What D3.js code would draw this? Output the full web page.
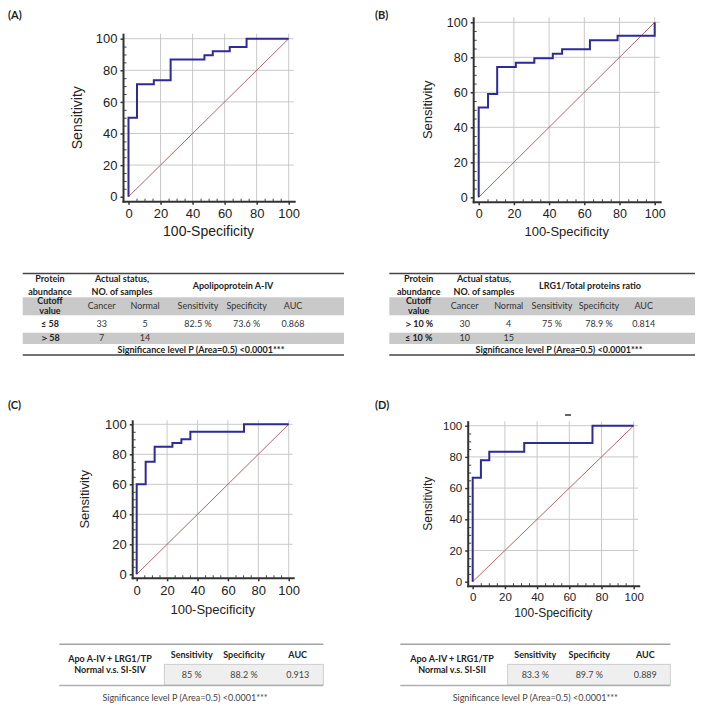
<!DOCTYPE html>
<html>
<head>
<meta charset="utf-8">
<script src="https://cdn.jsdelivr.net/npm/d3@7"></script>
<style>
  body { margin: 0; background: #fff; }
  svg { display: block; }
</style>
</head>
<body>
<div id="container"></div>
<script>
// ROC step vertices: x = 100-Specificity, y = Sensitivity (curve rises at each x)
const rocA_x = [0, 5.3, 15.8, 26.3, 47.4, 52.6, 63.2, 73.7, 100];
const rocA_y = [50, 71.1, 73.7, 86.8, 89.5, 92.1, 94.7, 100, 100];
const rocB_x = [0, 5.3, 10.5, 21.1, 31.6, 42.1, 47.4, 63.2, 78.9, 100];
const rocB_y = [51.3, 59, 74.4, 76.9, 79.5, 82.1, 84.6, 89.7, 92.3, 100];
const rocC_x = [0, 5.9, 11.8, 23.5, 29.4, 35.3, 70.6, 100];
const rocC_y = [60, 75, 85, 87.5, 90, 95, 100, 100];
const rocD_x = [0, 5.1, 10.3, 32, 74.4, 100];
const rocD_y = [66.7, 77.8, 83.3, 88.9, 100, 100];
const axisTicks = [0, 20, 40, 60, 80, 100];
const minorTicks = [5, 10, 15, 25, 30, 35, 45, 50, 55, 65, 70, 75, 85, 90, 95];

const panelLabels = ["(A)", "(B)", "(C)", "(D)"];
const abundanceHead = ["Protein", "abundance"];
const statusHead = ["Actual status,", "NO. of samples"];
const cutoffHead = ["Cutoff", "value"];
const columnHeads = ["Cancer", "Normal", "Sensitivity", "Specificity", "AUC"];
const tableA_title = "Apolipoprotein A-IV";
const tableA_rows = [
  ["≤ 58", "33", "5", "82.5 %", "73.6 %", "0.868"],
  ["＞58", "7", "14", "", "", ""]
];
const tableB_title = "LRG1/Total proteins ratio";
const tableB_rows = [
  ["＞10 %", "30", "4", "75 %", "78.9 %", "0.814"],
  ["≤ 10 %", "10", "15", "", "", ""]
];
const sigText = "Significance level P (Area=0.5) <0.0001***";
const comboHeads = ["Sensitivity", "Specificity", "AUC"];
const tableC_label = ["Apo A-IV + LRG1/TP", "Normal v.s. SI-SIV"];
const tableC_vals = ["85 %", "88.2 %", "0.913"];
const tableD_label = ["Apo A-IV + LRG1/TP", "Normal v.s. SI-SII"];
const tableD_vals = ["83.3 %", "89.7 %", "0.889"];

const W = 704, H = 712;
const plotFont = "'Liberation Sans', Arial, sans-serif";
const tabFont = "Lato, 'Open Sans', sans-serif";

const svg = d3.select("#container").append("svg")
  .attr("width", W).attr("height", H)
  .attr("viewBox", [0, 0, W, H]);
svg.append("rect").attr("width", W).attr("height", H).attr("fill", "#fff");

// panel letters
const letterPos = [[8, 19], [375, 19], [8, 409], [375, 409]];
svg.selectAll(".plabel").data(panelLabels).join("text")
  .attr("class", "plabel")
  .attr("x", (d, i) => letterPos[i][0]).attr("y", (d, i) => letterPos[i][1])
  .attr("font-family", tabFont).attr("font-weight", "bold").attr("font-size", 11)
  .attr("fill", "#222").text(d => d);

const drawRoc = (cfg, xs, ys) => {
  const x = d3.scaleLinear().domain([0, 100]).range([cfg.x0, cfg.x1]);
  const y = d3.scaleLinear().domain([0, 100]).range([cfg.yBot, cfg.yTop]);
  const left = cfg.x0 - cfg.pad, bottom = cfg.yBot + cfg.pad;
  const right = cfg.x1 + cfg.pad, top = cfg.yTop - cfg.pad;
  const g = svg.append("g");

  g.selectAll(".vgrid").data(axisTicks.slice(1)).join("line")
    .attr("x1", d => x(d)).attr("x2", d => x(d))
    .attr("y1", top).attr("y2", bottom)
    .attr("stroke", "#c9c9c9").attr("stroke-width", 1);
  g.selectAll(".hgrid").data(axisTicks.slice(1)).join("line")
    .attr("y1", d => y(d)).attr("y2", d => y(d))
    .attr("x1", left).attr("x2", right)
    .attr("stroke", "#c9c9c9").attr("stroke-width", 1);

  // chance line
  g.append("line")
    .attr("x1", x(0)).attr("y1", y(0)).attr("x2", x(100)).attr("y2", y(100))
    .attr("stroke", "#b06666").attr("stroke-width", 1);

  const pts = [[0, 0]].concat(xs.map((v, i) => [v, ys[i]]));
  g.append("path")
    .attr("d", d3.line().x(d => x(d[0])).y(d => y(d[1])).curve(d3.curveStepAfter)(pts))
    .attr("fill", "none").attr("stroke", "#2e2a96").attr("stroke-width", 2);

  // axes
  const yAxis = d3.axisLeft(y).tickValues(axisTicks).tickSize(3).tickPadding(3);
  const gy = g.append("g").attr("transform", `translate(${left},0)`).call(yAxis);
  const xAxis = d3.axisBottom(x).tickValues(axisTicks).tickSize(3).tickPadding(4);
  const gx = g.append("g").attr("transform", `translate(0,${bottom})`).call(xAxis);
  [gy, gx].forEach(a => {
    a.select(".domain").remove();
    a.selectAll("line").attr("stroke", "#333").attr("stroke-width", 1.5);
    a.selectAll("text").attr("font-family", plotFont).attr("font-size", cfg.fs).attr("fill", "#222");
  });
  const my = g.append("g").attr("transform", `translate(${left},0)`)
    .call(d3.axisLeft(y).tickValues(minorTicks).tickSize(-3).tickFormat(""));
  const mx = g.append("g").attr("transform", `translate(0,${bottom})`)
    .call(d3.axisBottom(x).tickValues(minorTicks).tickSize(-3).tickFormat(""));
  [my, mx].forEach(a => {
    a.select(".domain").remove();
    a.selectAll("line").attr("stroke", "#444").attr("stroke-width", 1);
  });
  // spines
  g.append("line").attr("x1", left).attr("x2", left).attr("y1", top).attr("y2", bottom + 1)
    .attr("stroke", "#333").attr("stroke-width", 2);
  g.append("line").attr("x1", left - 1).attr("x2", right + 2).attr("y1", bottom).attr("y2", bottom)
    .attr("stroke", "#333").attr("stroke-width", 2);

  g.append("text")
    .attr("x", (cfg.x0 + cfg.x1) / 2).attr("y", bottom + cfg.titleOff)
    .attr("text-anchor", "middle").attr("dominant-baseline", "middle")
    .attr("font-family", plotFont).attr("font-size", cfg.ts).attr("fill", "#222")
    .text("100-Specificity");
  g.append("text")
    .attr("transform", `translate(${left - cfg.labelOff},${(cfg.yTop + cfg.yBot) / 2}) rotate(-90)`)
    .attr("text-anchor", "middle").attr("dominant-baseline", "middle")
    .attr("font-family", plotFont).attr("font-size", cfg.ts).attr("fill", "#222")
    .text("Sensitivity");
  return g;
};

drawRoc({ x0: 128.5, x1: 288.7, yTop: 38.7, yBot: 196.7, pad: 5, fs: 13, ts: 14, titleOff: 31, labelOff: 45 }, rocA_x, rocA_y);
drawRoc({ x0: 478.7, x1: 654.7, yTop: 22.3, yBot: 197.3, pad: 5, fs: 12.5, ts: 13, titleOff: 30, labelOff: 45 }, rocB_x, rocB_y);
drawRoc({ x0: 136.7, x1: 288.7, yTop: 424.3, yBot: 574.3, pad: 4, fs: 13, ts: 13, titleOff: 32, labelOff: 47 }, rocC_x, rocC_y);
const gD = drawRoc({ x0: 472.7, x1: 633.7, yTop: 425.7, yBot: 581.7, pad: 4.5, fs: 11.5, ts: 12, titleOff: 28, labelOff: 39 }, rocD_x, rocD_y);
// small stray dash above panel D
gD.append("line").attr("x1", 565).attr("x2", 571).attr("y1", 415).attr("y2", 415)
  .attr("stroke", "#333").attr("stroke-width", 1.5);

// ---------- cutoff tables (A, B) ----------
const drawCutTable = (t, title, rows) => {
  const g = svg.append("g").attr("font-family", tabFont).attr("fill", "#222");
  const fs = 9;
  g.append("rect").attr("x", t.left).attr("y", 297.3).attr("width", t.right - t.left).attr("height", 18)
    .attr("fill", "#c9c9c9");
  g.append("rect").attr("x", t.left).attr("y", 332.7).attr("width", t.right - t.left).attr("height", 11.3)
    .attr("fill", "#c9c9c9");
  g.append("line").attr("x1", t.left).attr("x2", t.right).attr("y1", 273.5).attr("y2", 273.5)
    .attr("stroke", "#444").attr("stroke-width", 1.3);
  g.append("line").attr("x1", t.left).attr("x2", t.right).attr("y1", 355).attr("y2", 355)
    .attr("stroke", "#444").attr("stroke-width", 1.3);

  const txt = (x, y, s, bold) => g.append("text").attr("x", x).attr("y", y)
    .attr("text-anchor", "middle").attr("dominant-baseline", "middle")
    .attr("font-size", fs).attr("font-weight", bold ? "bold" : "normal")
    .attr("fill", bold ? "#222" : "#333").text(s);

  abundanceHead.forEach((s, i) => txt(t.cols[0], 280 + i * 12.5, s, true));
  statusHead.forEach((s, i) => txt(t.statusX, 280 + i * 12.5, s, true));
  txt(t.titleX, 286.5, title, true);
  cutoffHead.forEach((s, i) => txt(t.cols[0], 302 + i * 9.5, s, true));
  columnHeads.forEach((s, i) => txt(t.cols[i + 1], 306.5, s, false));
  rows.forEach((r, ri) => r.forEach((s, ci) => {
    if (s) txt(t.cols[ci], ri === 0 ? 325 : 338.5, s, ci === 0);
  }));
  txt(t.sigX, 350.5, sigText, true);
};

drawCutTable({ left: 22.7, right: 344, cols: [50, 101.7, 145, 198, 246.7, 293], statusX: 122, titleX: 233, sigX: 201 },
  tableA_title, tableA_rows);
drawCutTable({ left: 389.3, right: 695, cols: [418.7, 464.7, 508.7, 552, 599, 643.7], statusX: 484, titleX: 590, sigX: 559 },
  tableB_title, tableB_rows);

// ---------- combined tables (C, D) ----------
const drawComboTable = (t, label, vals) => {
  const g = svg.append("g").attr("font-family", tabFont);
  const fs = 9;
  g.append("rect").attr("x", t.cellLeft).attr("y", 664.3).attr("width", t.right - t.cellLeft).attr("height", 20.7)
    .attr("fill", "#efefef").attr("stroke", "#c4c4c4").attr("stroke-width", 0.8);
  g.append("line").attr("x1", t.left).attr("x2", t.right).attr("y1", 644.3).attr("y2", 644.3)
    .attr("stroke", "#a3a3a3").attr("stroke-width", 1.6);
  g.append("line").attr("x1", t.left).attr("x2", t.right).attr("y1", 685.5).attr("y2", 685.5)
    .attr("stroke", "#b0b0b0").attr("stroke-width", 1.5);
  const txt = (x, y, s, bold) => g.append("text").attr("x", x).attr("y", y)
    .attr("text-anchor", "middle").attr("dominant-baseline", "middle")
    .attr("font-size", fs).attr("font-weight", bold ? "bold" : "normal")
    .attr("fill", bold ? "#222" : "#444").text(s);
  label.forEach((s, i) => txt(t.labelX, 660 + i * 10.5, s, true));
  comboHeads.forEach((s, i) => txt(t.cols[i], 655.7, s, true));
  vals.forEach((s, i) => txt(t.cols[i], 675.3, s, false));
  txt(t.sigX, 698.3, sigText, false);
};

drawComboTable({ left: 59.3, right: 323.3, cellLeft: 164.3, cols: [191.7, 244, 297.7], labelX: 110, sigX: 185 },
  tableC_label, tableC_vals);
drawComboTable({ left: 400.3, right: 670.3, cellLeft: 507.7, cols: [535.3, 589.3, 645.3], labelX: 452, sigX: 535.3 },
  tableD_label, tableD_vals);
</script>
</body>
</html>
